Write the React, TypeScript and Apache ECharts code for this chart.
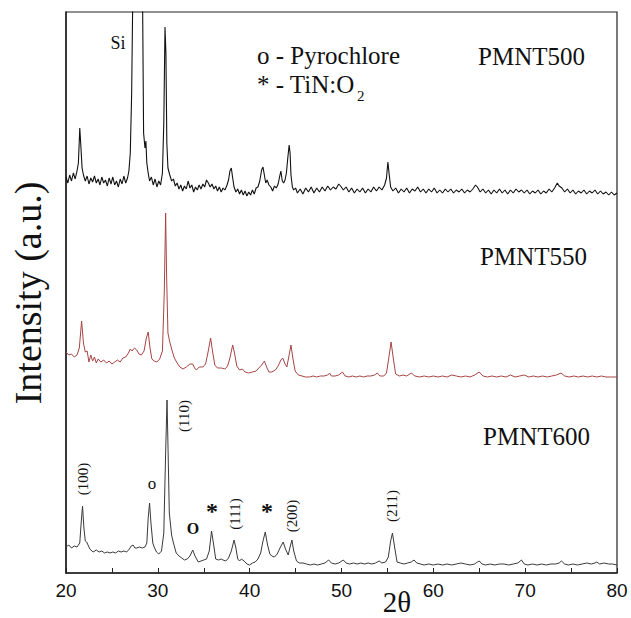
import React, { useEffect, useRef } from "react";
import * as echarts from "echarts";

// 2θ (deg) vs intensity (a.u.), three offset XRD patterns
const pmnt500: [number, number][] = [
  [20.0, 396], [20.2, 390], [20.4, 398], [20.6, 392], [20.8, 400], [21.0, 394], [21.2, 402], [21.35, 410], [21.5, 445], [21.6, 430], [21.75, 405], [21.9, 398],
  [22.1, 392], [22.3, 397], [22.5, 389], [22.7, 395], [22.9, 391], [23.1, 397], [23.3, 390], [23.5, 394], [23.7, 388], [23.9, 396], [24.1, 390], [24.3, 393],
  [24.5, 387], [24.7, 395], [24.9, 389], [25.1, 396], [25.3, 388], [25.5, 392], [25.7, 386], [25.9, 394], [26.1, 389], [26.3, 397], [26.5, 390], [26.7, 395],
  [26.85, 402], [27.0, 420], [27.15, 480], [27.3, 600], [27.4, 800], [28.25, 800], [28.35, 560], [28.45, 440], [28.6, 425], [28.7, 432], [28.8, 410], [28.95, 400],
  [29.1, 392], [29.3, 396], [29.5, 388], [29.7, 394], [29.9, 386], [30.1, 392], [30.3, 388], [30.5, 400], [30.65, 450], [30.78, 546], [30.88, 520], [30.98, 430],
  [31.1, 405], [31.3, 398], [31.5, 392], [31.7, 394], [31.9, 387], [32.1, 390], [32.3, 384], [32.5, 388], [32.7, 382], [32.9, 387], [33.1, 384], [33.3, 392],
  [33.5, 385], [33.7, 388], [33.9, 381], [34.1, 386], [34.3, 383], [34.5, 388], [34.7, 384], [34.9, 389], [35.1, 386], [35.3, 393], [35.5, 390], [35.7, 386],
  [35.9, 389], [36.1, 384], [36.3, 387], [36.5, 382], [36.7, 386], [36.9, 381], [37.1, 385], [37.3, 383], [37.5, 387], [37.7, 393], [37.85, 402], [38.0, 405],
  [38.15, 395], [38.3, 386], [38.5, 381], [38.7, 384], [38.9, 379], [39.1, 383], [39.3, 378], [39.5, 382], [39.7, 377], [39.9, 381], [40.1, 378], [40.3, 383],
  [40.5, 379], [40.7, 385], [40.9, 386], [41.1, 392], [41.3, 403], [41.45, 406], [41.6, 398], [41.75, 390], [41.9, 393], [42.1, 388], [42.3, 386], [42.5, 382],
  [42.7, 387], [42.9, 385], [43.1, 389], [43.3, 398], [43.4, 402], [43.55, 392], [43.7, 390], [43.85, 393], [44.0, 400], [44.15, 415], [44.3, 428], [44.4, 420],
  [44.5, 398], [44.65, 386], [44.8, 383], [45.0, 385], [45.2, 380], [45.5, 384], [45.8, 379], [46.1, 385], [46.4, 381], [46.7, 386], [47.0, 380], [47.3, 385],
  [47.6, 381], [47.9, 386], [48.2, 382], [48.5, 387], [48.8, 383], [49.1, 386], [49.4, 384], [49.7, 389], [49.9, 387], [50.2, 383], [50.5, 386], [50.8, 381],
  [51.1, 385], [51.4, 380], [51.7, 384], [52.0, 381], [52.3, 385], [52.6, 380], [52.9, 384], [53.2, 381], [53.5, 386], [53.8, 382], [54.1, 386], [54.4, 383],
  [54.7, 388], [54.9, 395], [55.05, 411], [55.2, 398], [55.35, 386], [55.6, 382], [55.9, 385], [56.2, 380], [56.5, 384], [56.8, 381], [57.1, 385], [57.4, 380],
  [57.7, 384], [58.0, 382], [58.3, 386], [58.6, 381], [58.9, 384], [59.2, 380], [59.5, 384], [59.8, 381], [60.1, 385], [60.4, 380], [60.7, 383], [61.0, 380],
  [61.3, 384], [61.6, 381], [61.9, 384], [62.2, 380], [62.5, 383], [62.8, 381], [63.1, 384], [63.4, 380], [63.7, 383], [64.0, 381], [64.3, 384], [64.6, 388],
  [64.8, 386], [65.1, 381], [65.4, 384], [65.7, 380], [66.0, 383], [66.3, 379], [66.6, 383], [66.9, 380], [67.2, 384], [67.5, 380], [67.8, 383], [68.1, 379],
  [68.4, 383], [68.7, 380], [69.0, 384], [69.3, 381], [69.6, 383], [69.9, 380], [70.2, 383], [70.5, 379], [70.8, 382], [71.1, 380], [71.4, 383], [71.7, 379],
  [72.0, 382], [72.3, 380], [72.6, 384], [72.9, 381], [73.2, 385], [73.5, 390], [73.7, 387], [74.0, 385], [74.3, 381], [74.6, 384], [74.9, 380], [75.2, 383],
  [75.5, 379], [75.8, 382], [76.1, 380], [76.4, 383], [76.7, 379], [77.0, 382], [77.3, 380], [77.6, 383], [77.9, 379], [78.2, 382], [78.5, 379], [78.8, 381],
  [79.1, 378], [79.4, 381], [79.7, 378], [80.0, 380],
];

const pmnt550: [number, number][] = [
  [20.0, 221], [20.3, 218], [20.6, 219], [20.9, 216], [21.2, 218], [21.45, 225], [21.7, 252], [21.9, 230], [22.1, 221], [22.3, 222], [22.5, 211], [22.7, 218],
  [22.9, 212], [23.1, 216], [23.3, 210], [23.5, 214], [23.8, 211], [24.1, 213], [24.4, 210], [24.7, 212], [25.0, 209], [25.3, 211], [25.6, 213], [25.9, 211],
  [26.2, 215], [26.5, 216], [26.8, 220], [27.0, 224], [27.2, 222], [27.45, 225], [27.7, 223], [27.95, 219], [28.2, 218], [28.5, 222], [28.75, 235], [28.95, 241],
  [29.15, 225], [29.35, 214], [29.6, 212], [29.9, 211], [30.2, 214], [30.5, 222], [30.7, 280], [30.85, 360], [30.95, 300], [31.1, 240], [31.3, 231], [31.5, 224],
  [31.8, 215], [32.1, 210], [32.4, 206], [32.75, 204], [33.1, 206], [33.5, 209], [33.8, 209], [34.0, 205], [34.2, 203], [34.5, 206], [34.9, 206], [35.2, 209],
  [35.45, 220], [35.75, 235], [35.95, 222], [36.2, 208], [36.5, 205], [36.9, 205], [37.3, 204], [37.6, 207], [37.85, 215], [38.15, 228], [38.35, 220], [38.6, 207],
  [38.9, 203], [39.2, 204], [39.5, 201], [39.9, 200], [40.3, 201], [40.7, 202], [41.0, 205], [41.3, 208], [41.6, 212], [41.85, 206], [42.1, 201], [42.4, 201],
  [42.8, 203], [43.1, 207], [43.4, 213], [43.6, 215], [43.85, 209], [44.05, 206], [44.3, 218], [44.5, 228], [44.7, 215], [44.95, 202], [45.3, 198], [45.7, 197],
  [46.1, 196], [46.5, 196], [46.9, 197], [47.3, 196], [47.7, 197], [48.1, 197], [48.5, 198], [48.7, 200], [48.9, 197], [49.3, 197], [49.7, 198], [50.1, 201],
  [50.4, 197], [50.8, 196], [51.2, 197], [51.6, 196], [52.0, 197], [52.4, 196], [52.8, 197], [53.2, 197], [53.6, 198], [53.9, 200], [54.2, 197], [54.6, 197],
  [54.9, 200], [55.15, 215], [55.4, 231], [55.65, 214], [55.9, 199], [56.3, 197], [56.7, 198], [57.1, 197], [57.6, 200], [58.0, 197], [58.5, 196], [59.0, 197],
  [59.5, 196], [60.0, 197], [60.5, 196], [61.0, 197], [61.5, 196], [62.0, 198], [62.5, 197], [63.0, 196], [63.5, 197], [64.0, 196], [64.5, 198], [65.0, 201],
  [65.4, 197], [65.9, 196], [66.4, 197], [66.9, 196], [67.4, 197], [67.9, 196], [68.4, 198], [68.9, 196], [69.4, 197], [69.9, 198], [70.4, 196], [70.9, 197],
  [71.4, 196], [71.9, 197], [72.4, 196], [72.9, 197], [73.4, 198], [73.9, 200], [74.3, 197], [74.8, 196], [75.3, 197], [75.8, 196], [76.3, 197], [76.8, 196],
  [77.3, 197], [77.8, 196], [78.3, 197], [78.8, 196], [79.3, 196], [80.0, 196],
];

const pmnt600: [number, number][] = [
  [20.0, 26], [20.3, 28], [20.6, 25], [20.9, 27], [21.2, 26], [21.5, 30], [21.65, 50], [21.8, 67], [21.95, 45], [22.1, 32], [22.25, 31], [22.4, 28],
  [22.6, 24], [22.95, 21], [23.3, 23], [23.6, 21], [23.9, 22], [24.2, 20], [24.5, 21], [24.8, 20], [25.1, 21], [25.4, 20], [25.7, 22], [26.0, 21],
  [26.3, 22], [26.6, 21], [26.9, 24], [27.1, 27], [27.3, 28], [27.5, 25], [27.7, 25], [28.0, 26], [28.3, 25], [28.6, 26], [28.8, 30], [28.95, 55],
  [29.1, 70], [29.25, 50], [29.45, 30], [29.6, 26], [29.85, 21], [30.1, 19], [30.4, 22], [30.65, 40], [30.85, 120], [31.0, 173], [31.1, 130], [31.25, 60],
  [31.5, 38], [31.7, 30], [32.0, 20], [32.3, 17], [32.6, 15], [32.9, 13], [33.2, 14], [33.5, 17], [33.8, 23], [34.05, 17], [34.4, 11], [34.7, 12],
  [35.0, 13], [35.3, 14], [35.6, 22], [35.85, 42], [36.05, 30], [36.3, 14], [36.6, 13], [36.9, 14], [37.1, 13], [37.4, 12], [37.7, 15], [38.0, 22],
  [38.3, 33], [38.5, 25], [38.7, 14], [38.9, 12], [39.1, 14], [39.4, 12], [39.7, 9], [40.0, 8], [40.3, 10], [40.6, 11], [40.9, 14], [41.2, 20],
  [41.45, 32], [41.7, 41], [41.95, 28], [42.2, 19], [42.4, 17], [42.7, 16], [43.0, 19], [43.3, 25], [43.65, 31], [43.9, 24], [44.2, 18], [44.4, 26],
  [44.6, 33], [44.8, 22], [45.1, 12], [45.4, 10], [45.8, 10], [46.2, 9], [46.6, 8], [47.0, 9], [47.4, 8], [47.8, 9], [48.2, 10], [48.6, 13],
  [48.9, 10], [49.3, 9], [49.7, 10], [50.2, 13], [50.5, 10], [50.9, 9], [51.3, 10], [51.7, 9], [52.1, 10], [52.5, 9], [52.9, 10], [53.3, 9],
  [53.7, 10], [54.1, 12], [54.4, 10], [54.8, 11], [55.1, 16], [55.35, 32], [55.55, 40], [55.8, 25], [56.05, 11], [56.4, 10], [56.8, 9], [57.2, 10],
  [57.6, 11], [57.9, 13], [58.2, 10], [58.6, 9], [59.0, 8], [59.5, 9], [60.0, 8], [60.5, 9], [61.0, 8], [61.5, 9], [62.0, 8], [62.5, 9],
  [63.0, 10], [63.5, 9], [64.0, 8], [64.5, 9], [64.8, 11], [65.0, 12], [65.3, 9], [65.7, 8], [66.2, 9], [66.7, 8], [67.2, 9], [67.7, 9],
  [68.2, 8], [68.7, 9], [69.2, 10], [69.6, 13], [69.9, 9], [70.3, 8], [70.8, 9], [71.3, 8], [71.8, 9], [72.3, 8], [72.8, 9], [73.3, 9],
  [73.7, 10], [73.95, 12], [74.3, 9], [74.7, 8], [75.2, 9], [75.7, 8], [76.2, 9], [76.7, 10], [77.2, 9], [77.6, 10], [77.8, 11], [78.1, 9],
  [78.6, 10], [79.1, 9], [79.5, 9], [80.0, 8],
];

const xTicks = [20, 30, 40, 50, 60, 70, 80];
const seriesNames = ["PMNT500", "PMNT550", "PMNT600"];
const peakLabels = ["(100)", "(110)", "(111)", "(200)", "(211)"];

const SERIF = "'Liberation Serif', 'Times New Roman', serif";
const SANS = "'Liberation Sans', Arial, sans-serif";

export default function App() {
  const ref = useRef<HTMLDivElement>(null);
  useEffect(() => {
    document.body.style.margin = "0";
    if (!ref.current) return;
    const chart = echarts.init(ref.current, undefined, { renderer: "svg" });
    const txt = (text: string, x: number, y: number, size: number, extra: any = {}) => ({
      type: "text",
      x,
      y,
      z: 10,
      style: { text, fontFamily: SERIF, fontSize: size, fill: "#111", align: "center", verticalAlign: "middle", ...(extra.style || {}) },
      ...(extra.el || {}),
    });
    const rot = (text: string, x: number, y: number) =>
      txt(text, x, y, 15, { el: { rotation: Math.PI / 2 } });
    chart.setOption({
      animation: false,
      backgroundColor: "#fff",
      grid: { left: 66, right: 14, top: 12, bottom: 45, show: true, borderColor: "#222", borderWidth: 1.2, backgroundColor: "transparent" },
      xAxis: {
        type: "value",
        min: 20,
        max: 80,
        interval: 10,
        axisLine: { lineStyle: { color: "#222", width: 1.5 } },
        axisTick: { inside: true, length: 5, lineStyle: { color: "#222" } },
        minorTick: { show: true, splitNumber: 2, length: 5, lineStyle: { color: "#222" } },
        splitLine: { show: false },
        axisLabel: { fontFamily: SANS, fontSize: 19, color: "#111", margin: 8, formatter: (v: number) => (xTicks.includes(v) ? String(v) : "") },
      },
      yAxis: {
        type: "value",
        min: 0,
        max: 561,
        axisLine: { show: true, lineStyle: { color: "#222", width: 1.5 } },
        axisTick: { show: false },
        axisLabel: { show: false },
        splitLine: { show: false },
      },
      series: [
        { name: seriesNames[0], type: "line", data: pmnt500, showSymbol: false, clip: true, lineStyle: { color: "#111", width: 1.1 } },
        { name: seriesNames[1], type: "line", data: pmnt550, showSymbol: false, clip: true, lineStyle: { color: "#a84444", width: 1 } },
        { name: seriesNames[2], type: "line", data: pmnt600, showSymbol: false, clip: true, lineStyle: { color: "#3a3a3a", width: 1 } },
      ],
      graphic: [
        txt("Intensity (a.u.)", 28, 293, 38, { el: { rotation: Math.PI / 2 } }),
        txt("2θ", 397, 602, 29),
        txt("Si", 118, 43, 18),
        txt("o - Pyrochlore", 257, 55, 25, { style: { align: "left" } }),
        txt("* - TiN:O", 257, 84, 25, { style: { align: "left" } }),
        txt("2", 357, 96, 15, { style: { align: "left" } }),
        txt(seriesNames[0], 478, 56, 25, { style: { align: "left" } }),
        txt(seriesNames[1], 480, 256, 25, { style: { align: "left" } }),
        txt(seriesNames[2], 483, 436, 25, { style: { align: "left" } }),
        rot(peakLabels[0], 83, 479),
        txt("o", 152, 483, 17),
        rot(peakLabels[1], 184, 416),
        txt("O", 193, 528, 16, { style: { fontWeight: "bold" } }),
        txt("*", 212, 511, 24, { style: { fontWeight: "bold" } }),
        rot(peakLabels[2], 235, 514),
        txt("*", 267, 511, 24, { style: { fontWeight: "bold" } }),
        rot(peakLabels[3], 292, 516),
        rot(peakLabels[4], 392, 506),
      ],
    });
    return () => chart.dispose();
  }, []);
  return <div ref={ref} style={{ width: 631, height: 618 }} />;
}
